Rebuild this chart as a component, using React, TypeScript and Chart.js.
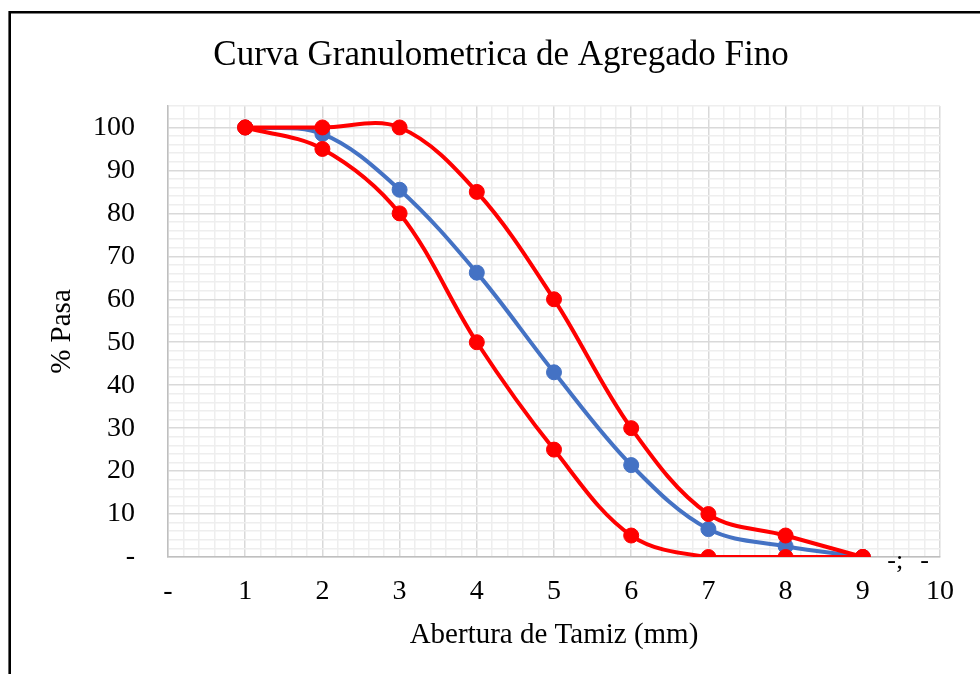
import React, { useEffect, useRef } from "react";
import { Chart, registerables } from "chart.js";

Chart.register(...registerables);

// Tamiz (posición en el eje X)
const sieves = [1, 2, 3, 4, 5, 6, 7, 8, 9];
// Curva granulométrica de la muestra (% Pasa)
const sample = [100, 98.5, 85.5, 66.2, 43, 21.4, 6.5, 2.5, 0];
// Límite superior (% Pasa)
const upperLimit = [100, 100, 100, 85, 60, 30, 10, 5, 0];
// Límite inferior (% Pasa)
const lowerLimit = [100, 95, 80, 50, 25, 5, 0, 0, 0];

const titleText = "Curva Granulometrica de Agregado Fino";
const xTitle = "Abertura de Tamiz (mm)";
const yTitle = "% Pasa";
// Stray labels near the end of the x axis
const strayLabels = [
  { x: 9.42, y: 0, text: "-;" },
  { x: 9.8, y: 0, text: "-" },
];

const FONT = "'Liberation Serif', 'Times New Roman', serif";

const isWhole = (v: number) => Math.abs(v - Math.round(v)) < 1e-6;

export default function App() {
  const ref = useRef<HTMLCanvasElement | null>(null);

  useEffect(() => {
    if (!ref.current) return;

    const framePlugin = {
      id: "frame",
      beforeDraw(chart: any) {
        const ctx = chart.ctx;
        ctx.save();
        ctx.fillStyle = "#ffffff";
        ctx.fillRect(0, 0, chart.width, chart.height);
        ctx.strokeStyle = "#000000";
        ctx.lineWidth = 2.6;
        ctx.beginPath();
        ctx.moveTo(9.7, chart.height + 5);
        ctx.lineTo(9.7, 12.2);
        ctx.lineTo(chart.width + 5, 12.2);
        ctx.stroke();
        ctx.restore();
      },
    };

    const strayPlugin = {
      id: "stray",
      afterDraw(chart: any) {
        const ctx = chart.ctx;
        const xs = chart.scales.x;
        const ys = chart.scales.y;
        ctx.save();
        ctx.fillStyle = "#000";
        ctx.font = `26px ${FONT}`;
        ctx.textAlign = "center";
        ctx.textBaseline = "middle";
        strayLabels.forEach((s) => {
          ctx.fillText(s.text, xs.getPixelForValue(s.x), ys.getPixelForValue(s.y) + 4);
        });
        ctx.restore();
      },
    };

    const mk = (vals: number[]) => sieves.map((x, i) => ({ x, y: vals[i] }));
    const series = (label: string, vals: number[], color: string) => ({
      label,
      data: mk(vals),
      borderColor: color,
      backgroundColor: color,
      pointBackgroundColor: color,
      pointBorderColor: color,
      borderWidth: 4,
      pointRadius: 7.5,
      pointBorderWidth: 1,
      tension: 0.35,
    });

    const chart = new Chart(ref.current, {
      type: "line",
      data: {
        datasets: [
          series("Límite superior", upperLimit, "#FF0000"),
          series("Límite inferior", lowerLimit, "#FF0000"),
          series("Muestra", sample, "#4472C4"),
        ],
      },
      options: {
        animation: false,
        responsive: false,
        devicePixelRatio: 1,
        layout: { padding: { top: 0, left: 62, right: 40, bottom: 21.6 } },
        plugins: {
          legend: { display: false },
          tooltip: { enabled: false },
          title: {
            display: true,
            text: titleText,
            color: "#000",
            font: { family: FONT, size: 35, weight: "normal", lineHeight: 1.2 },
            padding: { top: 35, bottom: 29 },
          },
        },
        scales: {
          x: {
            type: "linear",
            min: 0,
            max: 10,
            afterFit: (s: any) => {
              s.height = 95.4;
            },
            ticks: {
              stepSize: 0.2,
              autoSkip: false,
              maxRotation: 0,
              padding: 18,
              color: "#000",
              font: { family: FONT, size: 28, lineHeight: 1.2 },
              callback: (v: any) => {
                const n = Number(v);
                if (!isWhole(n)) return "";
                const r = Math.round(n);
                return r === 0 ? "-" : String(r);
              },
            },
            grid: {
              drawTicks: false,
              lineWidth: 1.5,
              color: (c: any) => (c.tick && isWhole(c.tick.value) ? "#D9D9D9" : "#EEEEEE"),
            },
            border: { color: "#BFBFBF", width: 1.5 },
            title: {
              display: true,
              text: xTitle,
              color: "#000",
              padding: 0,
              font: { family: FONT, size: 29, lineHeight: 1.2 },
            },
          },
          y: {
            type: "linear",
            min: 0,
            max: 105,
            afterFit: (s: any) => {
              s.width = 106;
            },
            ticks: {
              stepSize: 2,
              autoSkip: false,
              padding: 33,
              color: "#000",
              font: { family: FONT, size: 28, lineHeight: 1.2 },
              callback: (v: any) => {
                const n = Number(v);
                const r = Math.round(n);
                if (!isWhole(n) || r % 10 !== 0 || r > 100) return "";
                return r === 0 ? "-" : String(r);
              },
            },
            grid: {
              drawTicks: false,
              lineWidth: 1.5,
              color: (c: any) => {
                const v = c.tick ? c.tick.value : 1;
                return isWhole(v / 10) ? "#D9D9D9" : "#EEEEEE";
              },
            },
            border: { color: "#BFBFBF", width: 1.5 },
            title: {
              display: true,
              text: yTitle,
              color: "#000",
              padding: { top: -17.4, bottom: 0 },
              font: { family: FONT, size: 29, lineHeight: 1.2 },
            },
          },
        },
      } as any,
      plugins: [framePlugin, strayPlugin],
    });

    return () => chart.destroy();
  }, []);

  return (
    <div style={{ position: "absolute", left: 0, top: 0, width: 980, height: 674 }}>
      <canvas ref={ref} width={980} height={674} style={{ display: "block" }} />
    </div>
  );
}
